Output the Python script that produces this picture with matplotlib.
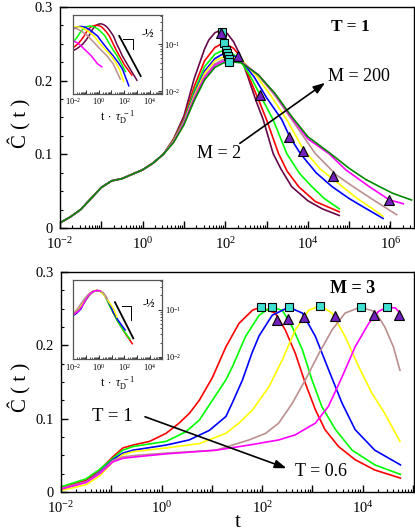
import numpy as np
import matplotlib
matplotlib.use("Agg")
import matplotlib.pyplot as plt
from matplotlib.ticker import LogLocator, MultipleLocator, FuncFormatter, NullFormatter

plt.rcParams['font.family'] = ['Liberation Serif', 'DejaVu Serif']
plt.rcParams['mathtext.fontset'] = 'custom'
plt.rcParams['mathtext.rm'] = 'Liberation Serif'
plt.rcParams['mathtext.it'] = 'Liberation Serif:italic'
plt.rcParams['mathtext.bf'] = 'Liberation Serif:bold'

# ---------------- data (log10 t, C) ----------------
# top panel (T = 1), M = 2 ... 200; common early part
TOP_EARLY_LOGT = [-2.0, -1.75, -1.5, -1.25, -1.0, -0.75, -0.5, -0.25, 0.0, 0.25, 0.5]
TOP_EARLY_C = [0.007, 0.015, 0.025, 0.040, 0.055, 0.064, 0.067, 0.073, 0.079, 0.088, 0.100]

TOP_M2_LOGT = [0.75, 1.0, 1.25, 1.5, 1.6, 1.75, 1.9, 2.05, 2.2, 2.35, 2.55, 2.75, 2.92, 3.16, 3.35, 3.61, 4.0, 4.35, 4.76]
TOP_M2_C = [0.121, 0.152, 0.203, 0.243, 0.255, 0.265, 0.269, 0.264, 0.253, 0.236, 0.205, 0.172, 0.147, 0.101, 0.080, 0.056, 0.037, 0.026, 0.017]
TOP_M3_LOGT = [0.75, 1.0, 1.25, 1.5, 1.75, 1.88, 2.0, 2.2, 2.35, 2.5, 2.67, 2.85, 3.0, 3.29, 3.5, 3.78, 4.18, 4.76]
TOP_M3_C = [0.120, 0.148, 0.192, 0.227, 0.245, 0.249, 0.250, 0.244, 0.234, 0.215, 0.192, 0.168, 0.147, 0.101, 0.077, 0.056, 0.036, 0.022]
TOP_M5_LOGT = [0.75, 1.0, 1.25, 1.5, 1.75, 1.9, 2.03, 2.3, 2.6, 2.84, 3.16, 3.49, 3.8, 4.10, 4.4, 4.76]
TOP_M5_C = [0.119, 0.146, 0.186, 0.219, 0.236, 0.240, 0.241, 0.232, 0.207, 0.181, 0.147, 0.101, 0.074, 0.056, 0.040, 0.026]
TOP_M10_LOGT = [0.75, 1.0, 1.25, 1.5, 1.75, 1.9, 2.06, 2.35, 2.7, 3.0, 3.37, 3.56, 3.82, 4.2, 4.59, 5.0, 5.33, 5.82]
TOP_M10_C = [0.118, 0.145, 0.182, 0.213, 0.230, 0.235, 0.237, 0.230, 0.205, 0.177, 0.147, 0.124, 0.101, 0.075, 0.056, 0.040, 0.029, 0.013]
TOP_M20_LOGT = [0.75, 1.0, 1.25, 1.5, 1.75, 1.9, 2.07, 2.4, 2.75, 3.1, 3.49, 3.9, 4.3, 4.84, 5.2, 5.49, 5.82]
TOP_M20_C = [0.118, 0.144, 0.180, 0.210, 0.227, 0.231, 0.233, 0.228, 0.207, 0.180, 0.147, 0.106, 0.080, 0.056, 0.040, 0.029, 0.016]
TOP_M50_LOGT = [0.75, 1.0, 1.25, 1.5, 1.75, 1.92, 2.09, 2.4, 2.8, 3.2, 3.6, 4.18, 4.69, 5.1, 5.59, 6.15]
TOP_M50_C = [0.117, 0.143, 0.177, 0.206, 0.223, 0.228, 0.230, 0.226, 0.207, 0.180, 0.148, 0.101, 0.072, 0.056, 0.038, 0.018]
TOP_M100_LOGT = [0.75, 1.0, 1.25, 1.5, 1.75, 1.93, 2.11, 2.4, 2.8, 3.2, 3.6, 4.0, 4.51, 4.92, 5.49, 5.98, 6.31]
TOP_M100_C = [0.117, 0.142, 0.176, 0.204, 0.221, 0.226, 0.228, 0.225, 0.208, 0.182, 0.150, 0.121, 0.101, 0.079, 0.056, 0.038, 0.033]
TOP_M200_LOGT = [0.75, 1.0, 1.25, 1.5, 1.75, 1.95, 2.13, 2.4, 2.8, 3.2, 3.6, 4.0, 4.55, 5.0, 5.4, 5.74, 6.06, 6.51]
TOP_M200_C = [0.116, 0.140, 0.173, 0.201, 0.218, 0.224, 0.226, 0.224, 0.208, 0.183, 0.152, 0.124, 0.101, 0.081, 0.066, 0.056, 0.047, 0.038]

TOP_LOG_TAU = [1.75, 2.15, 2.65, 3.45, 3.85, 4.45, 6.07]   # inset rescaling, M = 2 ... 100

TOP_SQ_LOGT = [1.92, 1.98, 2.03, 2.05, 2.07, 2.09, 2.10]
TOP_SQ_C = [0.266, 0.251, 0.241, 0.237, 0.233, 0.229, 0.226]
TOP_TRI_LOGT = [1.89, 2.32, 2.84, 3.54, 3.89, 4.62, 5.97]
TOP_TRI_C = [0.265, 0.234, 0.181, 0.124, 0.1045, 0.071, 0.038]

# bottom panel (M = 3), T = 1 ... 0.6
BOT_T1_LOGT = [-2, -1.5, -1.23, -0.97, -0.77, -0.57, -0.24, 0.09, 0.35, 0.55, 0.75, 1.01, 1.28, 1.54, 1.81, 1.97,
               2.26, 2.46, 2.66, 2.86, 3.06, 3.25, 3.52, 3.85, 4.24, 4.75]
BOT_T1_C = [0.006, 0.016, 0.030, 0.048, 0.060, 0.064, 0.069, 0.080, 0.094, 0.107, 0.125, 0.156, 0.198, 0.230, 0.248, 0.252,
            0.244, 0.221, 0.189, 0.148, 0.112, 0.085, 0.062, 0.044, 0.030, 0.019]
BOT_T2_LOGT = [-2, -1.5, -1.23, -0.97, -0.77, -0.57, 0.09, 0.48, 0.75, 1.01, 1.28, 1.41, 1.67, 1.94, 2.17,
               2.4, 2.6, 2.8, 2.99, 3.19, 3.46, 3.79, 4.24, 4.75]
BOT_T2_C = [0.007, 0.018, 0.031, 0.046, 0.057, 0.062, 0.069, 0.082, 0.098, 0.125, 0.153, 0.171, 0.212, 0.241, 0.252,
            0.248, 0.225, 0.194, 0.153, 0.116, 0.085, 0.057, 0.037, 0.024]
BOT_T3_LOGT = [-2, -1.5, -1.23, -0.97, -0.77, -0.57, 0.09, 0.55, 0.95, 1.28, 1.41, 1.61, 1.8, 1.94, 2.2, 2.53,
               2.8, 3.06, 3.32, 3.59, 3.85, 4.24, 4.75]
BOT_T3_C = [0.004, 0.014, 0.027, 0.044, 0.053, 0.057, 0.064, 0.071, 0.084, 0.103, 0.122, 0.153, 0.190, 0.213, 0.241, 0.252,
            0.244, 0.212, 0.167, 0.121, 0.085, 0.057, 0.037]
BOT_T4_LOGT = [-2, -1.5, -1.23, -0.97, -0.77, -0.57, 0.09, 0.75, 1.28, 1.54, 1.81, 2.14, 2.4, 2.66, 2.93, 3.16,
               3.39, 3.65, 3.92, 4.18, 4.44, 4.74]
BOT_T4_C = [0.002, 0.010, 0.022, 0.041, 0.051, 0.055, 0.060, 0.066, 0.080, 0.094, 0.112, 0.144, 0.180, 0.221, 0.248, 0.254,
            0.244, 0.212, 0.171, 0.135, 0.107, 0.069]
BOT_T5_LOGT = [-2, -1.5, -1.23, -0.97, -0.77, -0.5, 0.09, 1.08, 1.74, 2.07, 2.33, 2.6, 2.86, 3.13, 3.39, 3.65,
               3.95, 4.25, 4.44, 4.61, 4.74]
BOT_T5_C = [0.005, 0.014, 0.026, 0.043, 0.048, 0.050, 0.053, 0.057, 0.071, 0.080, 0.094, 0.121, 0.153, 0.189, 0.221, 0.244,
            0.252, 0.246, 0.225, 0.198, 0.166]
BOT_T6_LOGT = [-2, -1.5, -1.23, -0.97, -0.77, -0.5, 0.09, 1.08, 1.74, 2.33, 2.66, 3.06, 3.32, 3.59, 3.85, 4.12,
               4.31, 4.48, 4.65, 4.74]
BOT_T6_C = [0.004, 0.013, 0.025, 0.041, 0.046, 0.048, 0.052, 0.057, 0.064, 0.071, 0.078, 0.094, 0.117, 0.157, 0.198, 0.230,
            0.246, 0.252, 0.251, 0.244]

BOT_LOG_TAU = [2.12, 2.32, 2.68, 3.31, 4.10, 4.63]

BOT_SQ_LOGT = [1.98, 2.19, 2.54, 3.16, 3.97, 4.49]
BOT_SQ_C = [0.252, 0.252, 0.252, 0.254, 0.252, 0.252]
BOT_TRI_LOGT = [2.30, 2.52, 2.84, 3.44, 4.23, 4.73]
BOT_TRI_C = [0.234, 0.236, 0.239, 0.240, 0.241, 0.242]

TOP_COLORS = ['#670748', '#ff0000', '#00ff00', '#0000ff', '#ffff00', '#bc8f8f', '#ff00ff', '#008b00']
BOT_COLORS = ['#ff0000', '#00ff00', '#0000ff', '#ffff00', '#bc8f8f', '#ff00ff']
SQ_COLOR = '#40e0d0'
TRI_COLOR = '#7221bc'

top_curves = [
    (TOP_EARLY_LOGT + TOP_M2_LOGT, TOP_EARLY_C + TOP_M2_C),
    (TOP_EARLY_LOGT + TOP_M3_LOGT, TOP_EARLY_C + TOP_M3_C),
    (TOP_EARLY_LOGT + TOP_M5_LOGT, TOP_EARLY_C + TOP_M5_C),
    (TOP_EARLY_LOGT + TOP_M10_LOGT, TOP_EARLY_C + TOP_M10_C),
    (TOP_EARLY_LOGT + TOP_M20_LOGT, TOP_EARLY_C + TOP_M20_C),
    (TOP_EARLY_LOGT + TOP_M50_LOGT, TOP_EARLY_C + TOP_M50_C),
    (TOP_EARLY_LOGT + TOP_M100_LOGT, TOP_EARLY_C + TOP_M100_C),
    (TOP_EARLY_LOGT + TOP_M200_LOGT, TOP_EARLY_C + TOP_M200_C),
]
bot_curves = [
    (BOT_T1_LOGT, BOT_T1_C), (BOT_T2_LOGT, BOT_T2_C), (BOT_T3_LOGT, BOT_T3_C),
    (BOT_T4_LOGT, BOT_T4_C), (BOT_T5_LOGT, BOT_T5_C), (BOT_T6_LOGT, BOT_T6_C),
]

W, H = 415, 532
fig = plt.figure(figsize=(W / 100, H / 100), dpi=100)


def rect(x0, y0, x1, y1):
    return [x0 / W, 1 - y1 / H, (x1 - x0) / W, (y1 - y0) / H]


def log_fmt(v, pos):
    e = int(round(np.log10(v)))
    if e % 2 != 0:
        return ''
    return r'$10^{%d}$' % e


def style_main(ax, xmax):
    ax.set_xscale('log')
    ax.set_xlim(1e-2, xmax)
    ax.set_ylim(0, 0.3)
    ax.xaxis.set_major_locator(LogLocator(base=10, numticks=20))
    ax.xaxis.set_minor_locator(LogLocator(base=10, subs=np.arange(2, 10), numticks=100))
    ax.xaxis.set_major_formatter(FuncFormatter(log_fmt))
    ax.xaxis.set_minor_formatter(NullFormatter())
    ax.yaxis.set_major_locator(MultipleLocator(0.1))
    ax.yaxis.set_minor_locator(MultipleLocator(0.025))
    ax.yaxis.set_major_formatter(FuncFormatter(lambda v, p: '0' if abs(v) < 1e-9 else '%.1f' % v))
    ax.tick_params(which='both', direction='in', top=False, right=False, labelsize=10.5)
    ax.tick_params(axis='x', which='major', pad=6)
    ax.tick_params(axis='y', which='major', pad=5)
    ax.tick_params(which='major', length=5, width=1)
    ax.tick_params(which='minor', length=2.5, width=0.8)
    for s in ax.spines.values():
        s.set_linewidth(1.0)


def style_inset(ax):
    ax.set_xscale('log')
    ax.set_yscale('log')
    ax.set_xlim(1e-2, 10 ** 4.96)
    ax.set_ylim(10 ** -2.05, 10 ** -0.377)
    ax.xaxis.set_major_locator(LogLocator(base=10, numticks=20))
    ax.xaxis.set_minor_locator(LogLocator(base=10, subs=np.arange(2, 10), numticks=100))
    ax.xaxis.set_major_formatter(FuncFormatter(log_fmt))
    ax.xaxis.set_minor_formatter(NullFormatter())
    ax.yaxis.set_major_locator(LogLocator(base=10, numticks=10))
    ax.yaxis.set_minor_locator(LogLocator(base=10, subs=np.arange(2, 10), numticks=100))
    ax.yaxis.set_major_formatter(FuncFormatter(lambda v, p: r'$10^{%d}$' % int(round(np.log10(v)))))
    ax.yaxis.set_minor_formatter(NullFormatter())
    ax.yaxis.tick_right()
    ax.tick_params(which='both', direction='in', labelsize=6, pad=2, colors='#333333', labelcolor='black')
    ax.tick_params(which='major', length=3, width=0.7)
    ax.tick_params(which='minor', length=1.5, width=0.6)
    for s in ax.spines.values():
        s.set_linewidth(0.9)
        s.set_color('#555555')
    ax.set_xlabel(r'$\mathrm{t}\ \cdot\ \tau_{\mathrm{D}}^{\ -1}$', fontsize=8.5, labelpad=1)


def inset_slope(ax, line, corner, txt):
    ax.plot([line[0], line[2]], [line[1], line[3]], color='black', lw=1.3, transform=ax.transAxes)
    ax.plot([corner[0], corner[1], corner[1]], [corner[2], corner[2], corner[3]],
            color='black', lw=0.7, transform=ax.transAxes)
    ax.text(txt[0], txt[1], '-\u00bd', transform=ax.transAxes, fontsize=8.5,
            fontweight='bold', ha='left', va='center')


# ---------------- top panel ----------------
ax1 = fig.add_axes(rect(60, 7, 414, 228))
style_main(ax1, 10 ** 6.57)
for (lt, c), col in zip(top_curves, TOP_COLORS):
    ax1.plot(10 ** np.array(lt), c, color=col, lw=1.2)
ax1.plot(10 ** np.array(TOP_SQ_LOGT), TOP_SQ_C, ls='none', marker='s', ms=6.2,
         mfc=SQ_COLOR, mec='black', mew=0.8, zorder=5)
ax1.plot(10 ** np.array(TOP_TRI_LOGT), TOP_TRI_C, ls='none', marker='^', ms=7.5,
         mfc=TRI_COLOR, mec='black', mew=0.8, zorder=6)
ax1.text(0.819, 0.909, 'T = 1', transform=ax1.transAxes, fontsize=12.5, fontweight='bold',
         ha='center', va='center')
ax1.text(0.757, 0.685, 'M = 200', transform=ax1.transAxes, fontsize=13, ha='left', va='center')
ax1.text(0.386, 0.335, 'M = 2', transform=ax1.transAxes, fontsize=13, ha='left', va='center')
ax1.annotate('', xy=(0.749, 0.657), xytext=(0.508, 0.383), xycoords='axes fraction',
             arrowprops=dict(arrowstyle='-|>,head_length=0.7,head_width=0.25', color='black', lw=1.2,
                             shrinkA=0, shrinkB=0))

in1 = fig.add_axes(rect(73.3, 14.7, 161.7, 93.5))
style_inset(in1)
for (lt, c), col, lt0 in zip(top_curves[:7], TOP_COLORS[:7], TOP_LOG_TAU):
    in1.plot(10 ** (np.array(lt) - lt0), c, color=col, lw=1.1)
inset_slope(in1, (0.52, 0.73, 0.762, 0.222), (0.566, 0.679, 0.695, 0.568), (0.77, 0.77))

# ---------------- bottom panel ----------------
ax2 = fig.add_axes(rect(61, 272, 414, 492))
style_main(ax2, 10 ** 5.02)
for (lt, c), col in zip(bot_curves, BOT_COLORS):
    ax2.plot(10 ** np.array(lt), c, color=col, lw=1.2)
ax2.plot(10 ** np.array(BOT_SQ_LOGT), BOT_SQ_C, ls='none', marker='s', ms=6.2,
         mfc=SQ_COLOR, mec='black', mew=0.8, zorder=5)
ax2.plot(10 ** np.array(BOT_TRI_LOGT), BOT_TRI_C, ls='none', marker='^', ms=7.5,
         mfc=TRI_COLOR, mec='black', mew=0.8, zorder=6)
ax2.text(0.827, 0.926, 'M = 3', transform=ax2.transAxes, fontsize=13, fontweight='bold',
         ha='center', va='center')
ax2.text(0.087, 0.342, 'T = 1', transform=ax2.transAxes, fontsize=13.5, ha='left', va='center')
ax2.text(0.663, 0.092, 'T = 0.6', transform=ax2.transAxes, fontsize=13, ha='left', va='center')
ax2.annotate('', xy=(0.639, 0.108), xytext=(0.238, 0.342), xycoords='axes fraction',
             arrowprops=dict(arrowstyle='-|>,head_length=0.7,head_width=0.25', color='black', lw=1.2,
                             shrinkA=0, shrinkB=0))
ax2.set_xlabel('t', fontsize=15, labelpad=-2)

in2 = fig.add_axes(rect(73.3, 280, 162, 359.3))
style_inset(in2)
for (lt, c), col, lt0 in zip(bot_curves, BOT_COLORS, BOT_LOG_TAU):
    in2.plot(10 ** (np.array(lt) - lt0), c, color=col, lw=1.1)
inset_slope(in2, (0.47, 0.72, 0.676, 0.265), (0.546, 0.647, 0.666, 0.497), (0.785, 0.713))

# y labels
fig.text(20 / W, 1 - 123 / H, '\u0108 ( t )', rotation=90, fontsize=15, ha='center', va='center')
fig.text(20 / W, 1 - 387 / H, '\u0108 ( t )', rotation=90, fontsize=15, ha='center', va='center')

fig.savefig('out.png', dpi=100)
